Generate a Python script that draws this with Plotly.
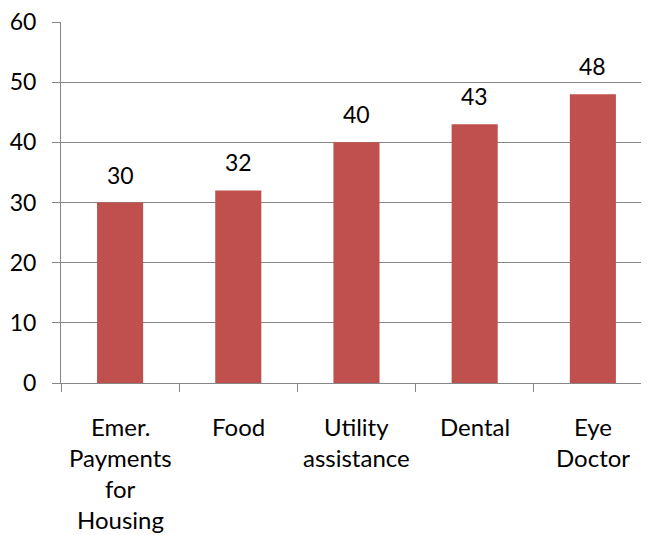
import plotly.graph_objects as go

categories = ["Emer. Payments for Housing", "Food", "Utility assistance", "Dental", "Eye Doctor"]
label_lines = [["Emer.", "Payments", "for", "Housing"], ["Food"], ["Utility", "assistance"], ["Dental"], ["Eye", "Doctor"]]
values = [30, 32, 40, 43, 48]
y_ticks = [0, 10, 20, 30, 40, 50, 60]

FONT = "Lato, Open Sans, sans-serif"
FS_NUM = 23
FS_TXT = 24

fig = go.Figure(go.Bar(
    x=categories, y=values,
    marker=dict(color="#C0504D", line=dict(width=0)),
    width=0.39,
    cliponaxis=False,
))

# data labels above bars
for c, v in zip(categories, values):
    fig.add_annotation(x=c, y=v, text=str(v), showarrow=False, yshift=28,
                       yanchor="middle", font=dict(family=FONT, size=FS_NUM, color="#000000"))

# category labels with wide line spacing
for c, lines in zip(categories, label_lines):
    for i, ln in enumerate(lines):
        fig.add_annotation(x=c, y=0, yref="paper", text=ln, showarrow=False,
                           yanchor="middle", yshift=-43 - i * 31.3,
                           font=dict(family=FONT, size=FS_TXT, color="#000000"))

fig.update_layout(
    width=641, height=527,
    margin=dict(l=53, r=0, t=14, b=152, autoexpand=False),
    paper_bgcolor="white", plot_bgcolor="white",
    showlegend=False,
    font=dict(family=FONT, size=FS_NUM, color="#000000"),
)
fig.update_xaxes(
    range=[-0.5, 4.475], automargin=False,
    showline=True, linecolor="#868686", linewidth=1,
    ticks="outside", ticklen=8, tickcolor="#868686", tickson="boundaries",
    showgrid=False, showticklabels=False,
)
fig.update_yaxes(
    range=[0, 60], tickvals=y_ticks, automargin=False,
    showline=True, linecolor="#868686", linewidth=1,
    ticks="outside", ticklen=8, tickcolor="#868686",
    showgrid=True, gridcolor="#868686", gridwidth=1,
    zeroline=False, ticklabelstandoff=11, ticklabeloverflow="allow",
    tickfont=dict(family=FONT, size=FS_NUM, color="#000000"),
)

fig.write_html("out.html")
